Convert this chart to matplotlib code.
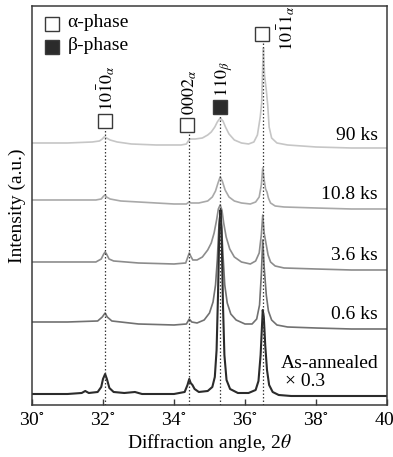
import matplotlib
matplotlib.use("Agg")
import matplotlib.pyplot as plt

# Diffraction traces (2theta in degrees, intensity in a.u.,
# each trace already offset vertically like in the original plot)
ang_90 = [30.0, 31.0, 31.7, 31.9, 31.98, 32.03, 32.06, 32.1, 32.2, 32.4, 32.8, 33.5,
          34.2, 34.35, 34.4, 34.45, 34.6, 34.8, 34.95, 35.05, 35.15, 35.22, 35.3,
          35.38, 35.45, 35.55, 35.7, 35.9, 36.1, 36.25, 36.35, 36.43, 36.47, 36.5,
          36.52, 36.55, 36.6, 36.64, 36.68, 36.75, 36.9, 37.2, 38.0, 39.0, 40.0]
int_90 = [262, 262, 263, 264, 266, 268, 268, 267, 265, 263, 261, 260,
          260, 261, 264, 266, 266, 267, 270, 273, 278, 283, 287,
          284, 278, 271, 265, 262, 261, 263, 270, 288, 302, 340,
          357, 330, 315, 300, 278, 267, 262, 260, 258, 257, 257]

ang_108 = [30.0, 31.0, 31.8, 31.95, 32.02, 32.06, 32.1, 32.2, 32.5, 33.0, 34.0, 34.35,
           34.42, 34.48, 34.7, 34.95, 35.08, 35.17, 35.24, 35.3, 35.36, 35.44, 35.55,
           35.7, 35.9, 36.15, 36.3, 36.4, 36.46, 36.5, 36.54, 36.58, 36.62, 36.66,
           36.72, 36.85, 37.1, 38.0, 39.0, 40.0]
int_108 = [205, 205, 205, 206, 209, 210, 208, 206, 204, 203, 201, 201,
           203, 202, 202, 204, 208, 214, 222, 228, 224, 215, 208,
           204, 202, 201, 203, 208, 220, 237, 225, 216, 213, 207,
           202, 199, 198, 197, 196, 196]

ang_36 = [30.0, 31.0, 31.8, 31.95, 32.02, 32.06, 32.1, 32.17, 32.3, 33.0, 34.0, 34.33,
          34.39, 34.43, 34.47, 34.53, 34.65, 34.8, 34.95, 35.05, 35.13, 35.2, 35.25,
          35.3, 35.35, 35.4, 35.47, 35.57, 35.7, 35.9, 36.15, 36.3, 36.4, 36.46, 36.5,
          36.54, 36.6, 36.65, 36.72, 36.85, 37.1, 38.0, 39.0, 40.0]
int_36 = [143, 143, 143, 146, 151, 153, 151, 146, 144, 142, 141, 142,
          148, 152, 149, 145, 145, 148, 155, 162, 172, 185, 196,
          200, 195, 182, 168, 156, 148, 143, 141, 144, 152, 170, 190,
          172, 160, 150, 143, 139, 137, 136, 135, 135]

ang_06 = [30.0, 31.0, 31.85, 31.98, 32.06, 32.12, 32.25, 33.0, 34.0, 34.35, 34.43, 34.5,
          34.65, 34.85, 35.0, 35.1, 35.17, 35.22, 35.26, 35.3, 35.34, 35.38, 35.43,
          35.5, 35.6, 35.75, 36.0, 36.2, 36.33, 36.41, 36.46, 36.5, 36.54, 36.6,
          36.66, 36.75, 36.9, 37.2, 38.0, 39.0, 40.0]
int_06 = [83, 83, 84, 88, 92, 88, 84, 81, 80, 81, 86, 83,
          82, 85, 92, 103, 120, 145, 175, 193, 178, 150, 120,
          102, 91, 85, 81, 81, 86, 100, 130, 165, 138, 110,
          94, 85, 80, 78, 77, 76, 76]

ang_aa = [30.0, 31.0, 31.4, 31.5, 31.6, 31.85, 31.95, 32.0, 32.06, 32.11, 32.18, 32.3,
          32.6, 32.9, 33.1, 34.0, 34.3, 34.38, 34.43, 34.47, 34.52, 34.58, 34.7,
          34.95, 35.08, 35.15, 35.2, 35.24, 35.28, 35.31, 35.34, 35.38, 35.42, 35.48,
          35.58, 35.8, 36.1, 36.3, 36.38, 36.44, 36.48, 36.5, 36.53, 36.57, 36.62,
          36.68, 36.78, 36.95, 37.3, 38.0, 39.0, 40.0]
int_aa = [11, 11, 12, 14, 12, 13, 18, 26, 31, 26, 17, 13,
          12, 13, 11, 11, 13, 20, 26, 22, 20, 16, 13,
          14, 18, 28, 55, 110, 180, 195, 175, 100, 50, 25,
          16, 12, 12, 15, 24, 50, 80, 95, 88, 60, 35,
          20, 13, 10, 9, 9, 9, 9]

trace_labels = ["90 ks", "10.8 ks", "3.6 ks", "0.6 ks", "As-annealed"]
trace_colors = ["#c6c6c6", "#a9a9a9", "#8c8c8c", "#717171", "#2b2b2b"]

# reflections: position, label, phase
peak_pos = [32.06, 34.43, 35.30, 36.50]
peak_names = [r"$10\bar{1}0_{\alpha}$", r"$0002_{\alpha}$", r"$110_{\beta}$",
              r"$10\bar{1}1_{\alpha}$"]
peak_phase = ["alpha", "alpha", "beta", "alpha"]

xticks = [30, 32, 34, 36, 38, 40]

plt.rcParams["font.family"] = ["Liberation Serif", "DejaVu Serif"]
plt.rcParams["mathtext.fontset"] = "stix"

FS = 14
DOT = (0, (1.2, 1.6))
EDGE = "#3a3a3a"


def main():
    fig = plt.figure(figsize=(3.93, 4.57), dpi=100)
    ax = fig.add_axes([0.0814, 0.1138, 0.9033, 0.8731])

    traces = [(ang_90, int_90), (ang_108, int_108), (ang_36, int_36),
              (ang_06, int_06), (ang_aa, int_aa)]
    for (a, i), c in zip(traces, trace_colors):
        lw = 1.5 if c == trace_colors[-1] else 1.2
        ax.plot(a, i, color=c, lw=lw, zorder=2, solid_joinstyle="round")

    # dotted guide lines from under each marker down to the axis
    line_tops = [277, 273, 290, 363]
    for p, top in zip(peak_pos, line_tops):
        ax.plot([p, p], [0, top], color=EDGE, lw=0.9, ls=DOT, zorder=3)

    # markers + rotated peak names
    mk_y = [284, 280, 298, 371]
    mk_x = [32.06, 34.38, 35.30, 36.49]
    for k, (x, y) in enumerate(zip(mk_x, mk_y)):
        fc = "white" if peak_phase[k] == "alpha" else "#2b2b2b"
        ax.plot(x, y, marker="s", ms=9.5, mfc=fc, mec=EDGE, mew=1.0, zorder=4,
                clip_on=False)
    ax.text(32.08, 294, peak_names[0], rotation=90, ha="center", va="bottom",
            fontsize=FS - 1)
    ax.text(34.45, 290, peak_names[1], rotation=90, ha="center", va="bottom",
            fontsize=FS - 1)
    ax.text(35.42, 308, peak_names[2], rotation=90, ha="center", va="bottom",
            fontsize=FS - 1)
    ax.text(37.15, 377, peak_names[3], rotation=90, ha="center", va="center",
            fontsize=FS - 1)

    # legend drawn by hand, as in the original
    ax.plot(30.56, 381, marker="s", ms=10.5, mfc="white", mec=EDGE, mew=1.0)
    ax.plot(30.56, 358, marker="s", ms=10.5, mfc="#2b2b2b", mec=EDGE, mew=1.0)
    ax.text(31.0, 382, "α-phase", ha="left", va="center", fontsize=FS)
    ax.text(31.0, 359, "β-phase", ha="left", va="center", fontsize=FS)

    # sample labels on the right
    label_y = [269, 210, 149, 90, 41]
    for lab, y in zip(trace_labels, label_y):
        ax.text(39.75, y, lab, ha="right", va="center", fontsize=FS)
    ax.text(37.12, 23, "× 0.3", ha="left", va="center", fontsize=FS)

    ax.set_xlim(30, 40)
    ax.set_ylim(0, 399)
    ax.set_yticks([])
    ax.set_xticks(xticks)
    ax.set_xticklabels([f"{v}" + r"$^{\circ}$" for v in xticks], fontsize=FS)
    ax.tick_params(axis="x", direction="in", length=4, width=1.0, pad=5,
                   color=EDGE)
    ax.set_xlabel(r"Diffraction angle, 2$\theta$", fontsize=FS, labelpad=2)
    ax.set_ylabel("Intensity (a.u.)", fontsize=FS, labelpad=4)
    for s in ax.spines.values():
        s.set_linewidth(1.1)
        s.set_color(EDGE)

    fig.savefig("out.png", dpi=100)
    plt.close(fig)


if __name__ == "__main__":
    main()
